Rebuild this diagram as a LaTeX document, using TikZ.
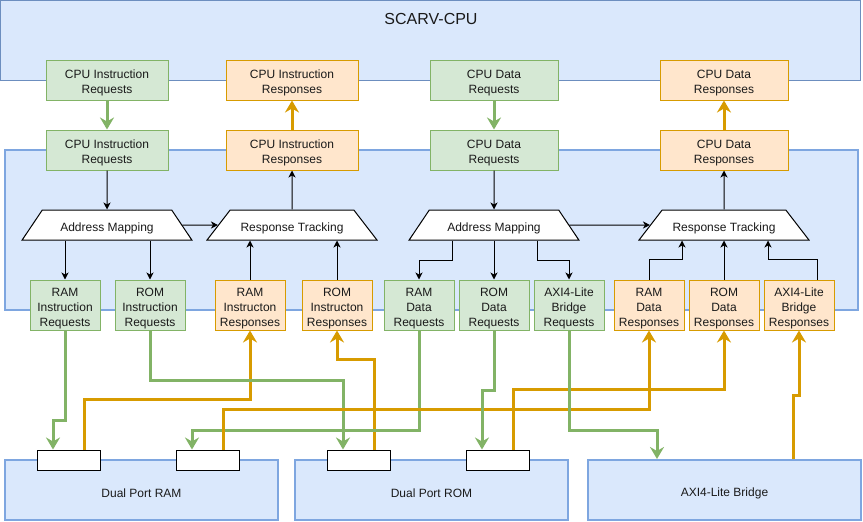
\documentclass[tikz,border=0pt]{standalone}
\usepackage{fontspec}
\setmainfont{Liberation Sans}
\usetikzlibrary{shapes.geometric,arrows.meta,calc}
\definecolor{gfill}{HTML}{D5E8D4}
\definecolor{gline}{HTML}{82B366}
\definecolor{ofill}{HTML}{FFE6CC}
\definecolor{oline}{HTML}{D79B00}
\definecolor{bfill}{HTML}{DAE8FC}
\definecolor{bline}{HTML}{6C8EBF}
\definecolor{bthick}{HTML}{7EA6E0}
\definecolor{txt}{HTML}{1A1A1A}
\newcommand\fl{\rule{0pt}{14.5pt}}
\begin{document}
\begin{tikzpicture}[x=1pt,y=-1pt,
  txtfont/.style={font=\fontsize{12}{15}\selectfont, text=txt},
  lowered/.style={execute at begin node={\rule{0pt}{14.5pt}}},
  box/.style={draw, rectangle, inner sep=0pt, align=center, line width=1pt, txtfont},
  gbox/.style={box, fill=gfill, draw=gline},
  obox/.style={box, fill=ofill, draw=oline},
  topbox/.style={minimum height=40pt},
  portbox/.style={box, minimum width=70pt, minimum height=50pt},
  membox/.style={box, lowered, fill=bfill, draw=bthick, line width=2pt, minimum width=273pt, minimum height=60pt},
  portnode/.style={draw=black, fill=white, line width=1pt, rectangle, minimum width=63pt, minimum height=20pt, inner sep=0pt},
  trap/.style={draw=black, fill=white, line width=1pt, trapezium, trapezium stretches=true, minimum width=170pt, minimum height=30pt, inner sep=0pt, txtfont, lowered},
  amtrap/.style={trap, trapezium left angle=49.4, trapezium right angle=49.4},
  rttrap/.style={trap, trapezium left angle=41.4, trapezium right angle=41.4},
  blk/.style={draw=black, line width=1pt, -{Stealth[length=7pt,width=7pt,inset=2pt]}},
  garr/.style={draw=gline, line width=3pt, -{Stealth[length=12pt,width=14pt,inset=4pt]}},
  oarr/.style={draw=oline, line width=3pt, -{Stealth[length=12pt,width=14pt,inset=4pt]}}
]
\useasboundingbox (0,0) rectangle (863,522);
% outer CPU box
\node[draw=bline, fill=bfill, line width=1pt, rectangle, minimum width=860pt, minimum height=80pt, inner sep=0pt] (scarv) at (430,40) {};
\node[font=\fontsize{16}{18}\selectfont, text=txt] (scarvlabel) at (431,19) {SCARV-CPU};
% inner box
\node[draw=bthick, fill=bfill, line width=2pt, rectangle, minimum width=853pt, minimum height=160pt, inner sep=0pt] (inner) at (431.5,230) {};

% row 1
\node[gbox, topbox, minimum width=122pt] (cir1) at (107,80) {\fl CPU Instruction\\Requests};
\node[obox, topbox, minimum width=132pt] (cirs1) at (292,80) {\fl CPU Instruction\\Responses};
\node[gbox, topbox, minimum width=128pt] (cdr1) at (494,80) {\fl CPU Data\\Requests};
\node[obox, topbox, minimum width=128pt] (cdrs1) at (724,80) {\fl CPU Data\\Responses};
% row 2
\node[gbox, topbox, minimum width=122pt] (cir2) at (107,150) {\fl CPU Instruction\\Requests};
\node[obox, topbox, minimum width=132pt] (cirs2) at (292,150) {\fl CPU Instruction\\Responses};
\node[gbox, topbox, minimum width=128pt] (cdr2) at (494,150) {\fl CPU Data\\Requests};
\node[obox, topbox, minimum width=128pt] (cdrs2) at (724,150) {\fl CPU Data\\Responses};
% trapezia
\node[amtrap] (am1) at (107,225) {Address Mapping};
\node[rttrap] (rt1) at (292,225) {Response Tracking};
\node[amtrap] (am2) at (494,225) {Address Mapping};
\node[rttrap] (rt2) at (724,225) {Response Tracking};
% row 3
\node[portbox, gbox] (rir) at (65,305) {\fl RAM\\Instruction\\Requests};
\node[portbox, gbox] (roir) at (150,305) {\fl ROM\\Instruction\\Requests};
\node[portbox, obox] (rirs) at (250,305) {\fl RAM\\Instructon\\Responses};
\node[portbox, obox] (roirs) at (337,305) {\fl ROM\\Instructon\\Responses};
\node[portbox, gbox] (rdr) at (419,305) {\fl RAM\\Data\\Requests};
\node[portbox, gbox] (rodr) at (494,305) {\fl ROM\\Data\\Requests};
\node[portbox, gbox] (axir) at (569,305) {\fl AXI4-Lite\\Bridge\\Requests};
\node[portbox, obox] (rdrs) at (649,305) {\fl RAM\\Data\\Responses};
\node[portbox, obox] (rodrs) at (724,305) {\fl ROM\\Data\\Responses};
\node[portbox, obox] (axirs) at (799,305) {\fl AXI4-Lite\\Bridge\\Responses};
% memories
\node[membox] (ram) at (141.5,490) {Dual Port RAM};
\node[membox] (rom) at (431.5,490) {Dual Port ROM};
\node[membox] (axi) at (724.5,490) {AXI4-Lite Bridge};
\node[portnode] (ramp1) at (68.5,460) {};
\node[portnode] (ramp2) at (207.5,460) {};
\node[portnode] (romp1) at (358.5,460) {};
\node[portnode] (romp2) at (497.5,460) {};

% top connectors
\draw[garr] (cir1.south) -- (cir2.north);
\draw[garr] (cdr1.south) -- (cdr2.north);
\draw[oarr] (cirs2.north) -- (cirs1.south);
\draw[oarr] (cdrs2.north) -- (cdrs1.south);
% black connectors
\draw[blk] (cir2.south) -- (am1.north);
\draw[blk] (cdr2.south) -- (am2.north);
\draw[blk] (rt1.north) -- (cirs2.south);
\draw[blk] (rt2.north) -- (cdrs2.south);
\draw[blk] (am1.east) -- (rt1.west);
\draw[blk] (am2.east) -- (rt2.west);
\draw[blk] (am1.south -| rir.north) -- (rir.north);
\draw[blk] (am1.south -| roir.north) -- (roir.north);
\draw[blk] (rirs.north) -- (rirs.north |- rt1.south);
\draw[blk] (roirs.north) -- (roirs.north |- rt1.south);
\draw[blk] ([xshift=-42pt]am2.south) -- ++(0,20) -| (rdr.north);
\draw[blk] (am2.south -| rodr.north) -- (rodr.north);
\draw[blk] ([xshift=43pt]am2.south) -- ++(0,20) -| (axir.north);
\draw[blk] (rdrs.north) -- ++(0,-20) -| ([xshift=-42pt]rt2.south);
\draw[blk] (rodrs.north) -- (rodrs.north |- rt2.south);
\draw[blk] ([xshift=18pt]axirs.north) -- ++(0,-20) -| ([xshift=44pt]rt2.south);

% memory connectors
\draw[garr] (rir.south) -- (rir.south |- 0,420) -| ([xshift=-15.5pt]ramp1.north);
\draw[oarr] ([xshift=15.5pt]ramp1.north) -- ++(0,-50) -| (rirs.south);
\draw[garr] (roir.south) -- (roir.south |- 0,380) -| ([xshift=-15.5pt]romp1.north);
\draw[oarr] ([xshift=15.5pt]romp1.north) -- ++(0,-90) -| (roirs.south);
\draw[garr] (rdr.south) -- (rdr.south |- 0,430) -| ([xshift=-15.5pt]ramp2.north);
\draw[oarr] ([xshift=15.5pt]ramp2.north) -- ++(0,-40) -| (rdrs.south);
\draw[garr] (rodr.south) -- (rodr.south |- 0,390) -| ([xshift=-15.5pt]romp2.north);
\draw[oarr] ([xshift=15.5pt]romp2.north) -- ++(0,-60) -| (rodrs.south);
\draw[garr] (axir.south) -- (axir.south |- 0,430) -| ([xshift=-67.5pt]axi.north);
\draw[oarr] ([xshift=68.5pt]axi.north) -- ++(0,-64) -| (axirs.south);
\end{tikzpicture}
\end{document}
